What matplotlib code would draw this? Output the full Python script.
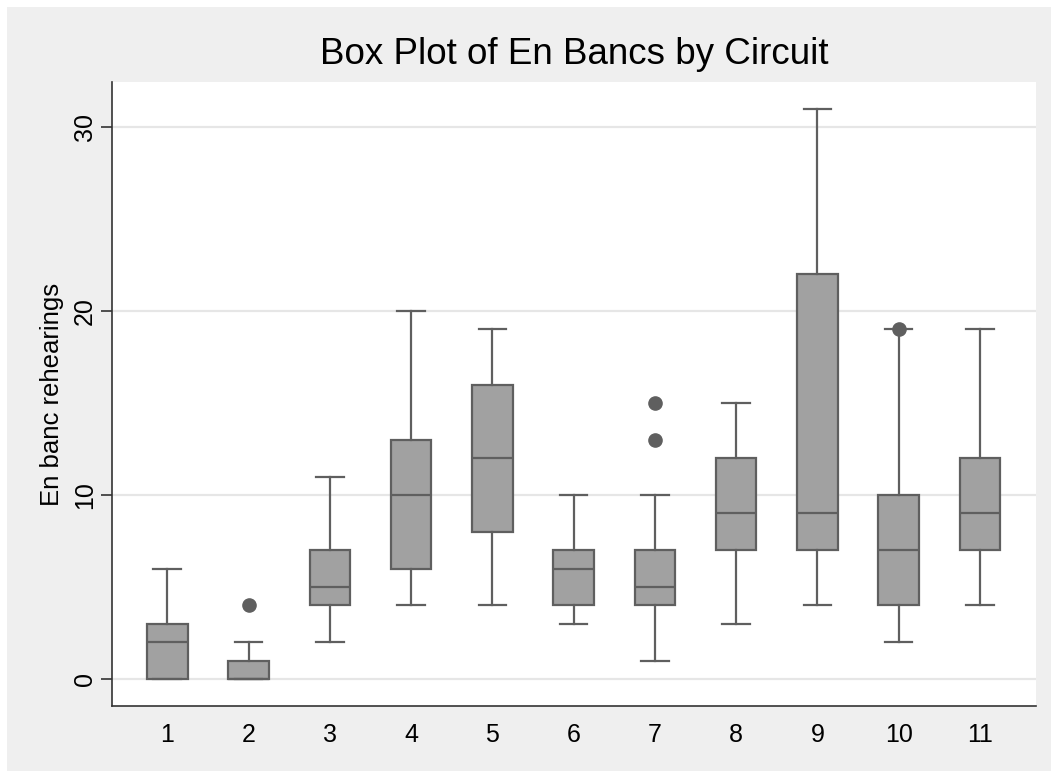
import matplotlib.pyplot as plt
from matplotlib.patches import Rectangle

# box statistics, one entry per circuit
circuits = ["1", "2", "3", "4", "5", "6", "7", "8", "9", "10", "11"]
whislo = [0, 0, 2, 4, 4, 3, 1, 3, 4, 2, 4]
q1 = [0, 0, 4, 6, 8, 4, 4, 7, 7, 4, 7]
med = [2, 0, 5, 10, 12, 6, 5, 9, 9, 7, 9]
q3 = [3, 1, 7, 13, 16, 7, 7, 12, 22, 10, 12]
whishi = [6, 2, 11, 20, 19, 10, 10, 15, 31, 19, 19]
fliers = [[], [4], [], [], [], [], [13, 15], [], [], [19], []]

y_ticks = [0, 10, 20, 30]

plt.rcParams['font.family'] = ['Liberation Sans', 'DejaVu Sans']

FILL = '#a1a1a1'
EDGE = '#5f5f5f'
BG = '#efefef'

fig = plt.figure(figsize=(10.51, 7.71), dpi=100, facecolor='white')
# grey panel, leaving a thin white strip on top and left like the original
fig.patches.append(Rectangle((7 / 1051, -0.5), 2, 1.5 - 7 / 771, transform=fig.transFigure,
                             facecolor=BG, edgecolor='none', zorder=-10))

ax = fig.add_axes([0.1066, 0.0843, 0.8791, 0.8093])
ax.set_facecolor('white')

stats = []
for i in range(len(circuits)):
    stats.append(dict(label=circuits[i], whislo=whislo[i], q1=q1[i], med=med[i],
                      q3=q3[i], whishi=whishi[i], fliers=fliers[i]))

positions = list(range(1, len(circuits) + 1))
ax.bxp(stats, positions=positions, widths=0.5, patch_artist=True,
       boxprops=dict(facecolor=FILL, edgecolor=EDGE, linewidth=1.6),
       medianprops=dict(color=EDGE, linewidth=1.6),
       whiskerprops=dict(color=EDGE, linewidth=1.6),
       capprops=dict(color=EDGE, linewidth=1.6),
       capwidths=0.34,
       flierprops=dict(marker='o', markerfacecolor=EDGE, markeredgecolor=EDGE,
                       markersize=9.5, linestyle='none'),
       zorder=3)

ax.set_xlim(0.32, 11.69)
ax.set_ylim(-1.47, 32.45)
ax.set_yticks(y_ticks)
ax.set_yticklabels([str(v) for v in y_ticks])
ax.yaxis.grid(True, color='#e6e6e6', linewidth=1.6, zorder=0)
ax.set_axisbelow(True)

for s in ['top', 'right']:
    ax.spines[s].set_visible(False)
for s in ['left', 'bottom']:
    ax.spines[s].set_color('#333333')
    ax.spines[s].set_linewidth(1.2)

ax.tick_params(axis='x', length=0, pad=12, labelsize=18)
ax.tick_params(axis='y', length=8, width=1.2, color='#333333', pad=3,
               labelsize=18, labelrotation=90)
for lab in ax.get_yticklabels():
    lab.set_va('center')

ax.set_ylabel('En banc rehearings', fontsize=18.5, labelpad=6)

fig.text(0.546, 0.929, 'Box Plot of En Bancs by Circuit', fontsize=26.5,
         ha='center', va='center')

plt.savefig('out.png', dpi=100, facecolor=fig.get_facecolor())
